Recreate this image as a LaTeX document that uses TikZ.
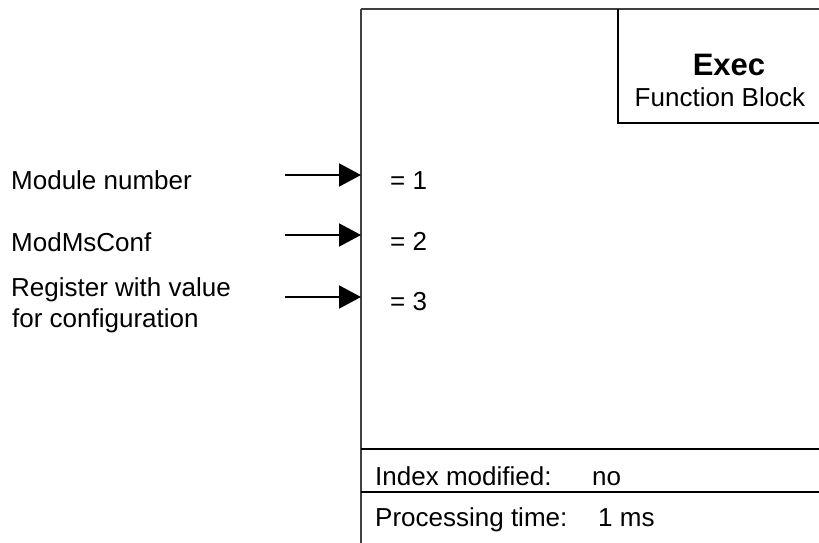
\documentclass[tikz,border=0pt]{standalone}
\usepackage{fontspec}
\setmainfont{Liberation Sans}
\usetikzlibrary{arrows.meta}
\begin{document}
\begin{tikzpicture}[x=1pt,y=-1pt,
  lbl/.style={inner sep=0pt,anchor=base west,font=\fontsize{26}{31}\selectfont},
  frame/.style={line width=2pt,black},
  thinframe/.style={line width=1.2pt,black!75},
  inarrow/.style={line width=2pt,-{Triangle[length=22pt,width=23pt]}}]
\useasboundingbox (0,0) rectangle (819,543);
\clip (0,0) rectangle (819,543);
% main block
\draw[thinframe] (361,9) -- (361,560);
\draw[thinframe] (361,9) -- (830,9);
\draw[frame] (618,9) -- (618,123) -- (830,123);
\draw[frame] (361,449) -- (830,449);
\draw[frame] (361,492) -- (830,492);
% header
\node[inner sep=0pt,anchor=base,font=\fontsize{31}{36}\selectfont\bfseries] (exec) at (729,75) {Exec};
\node[inner sep=0pt,anchor=base,font=\fontsize{26}{31}\selectfont] (fb) at (720,106) {Function Block};
% ports
\coordinate (p1) at (361,175);
\coordinate (p2) at (361,235);
\coordinate (p3) at (361,297);
\coordinate (s1) at (285,175);
\coordinate (s2) at (285,235);
\coordinate (s3) at (285,297);
\draw[inarrow] (s1) -- (p1);
\draw[inarrow] (s2) -- (p2);
\draw[inarrow] (s3) -- (p3);
\node[lbl] (v1) at (390,189) {= 1};
\node[lbl] (v2) at (390,250) {= 2};
\node[lbl] (v3) at (390,310) {= 3};
\node[lbl] (l1) at (11,189.5) {Module number};
\node[lbl] (l2) at (11,251) {ModMsConf};
\node[lbl] (l3a) at (11,296.5) {Register with value};
\node[lbl] (l3b) at (12,327.5) {for configuration};
% footer
\node[lbl] (im) at (375,485.5) {Index modified:};
\node[lbl] (imv) at (592,485.5) {no};
\node[lbl] (pt) at (375,526) {Processing time:};
\node[lbl] (ptv) at (598,526) {1 ms};
\end{tikzpicture}
\end{document}
